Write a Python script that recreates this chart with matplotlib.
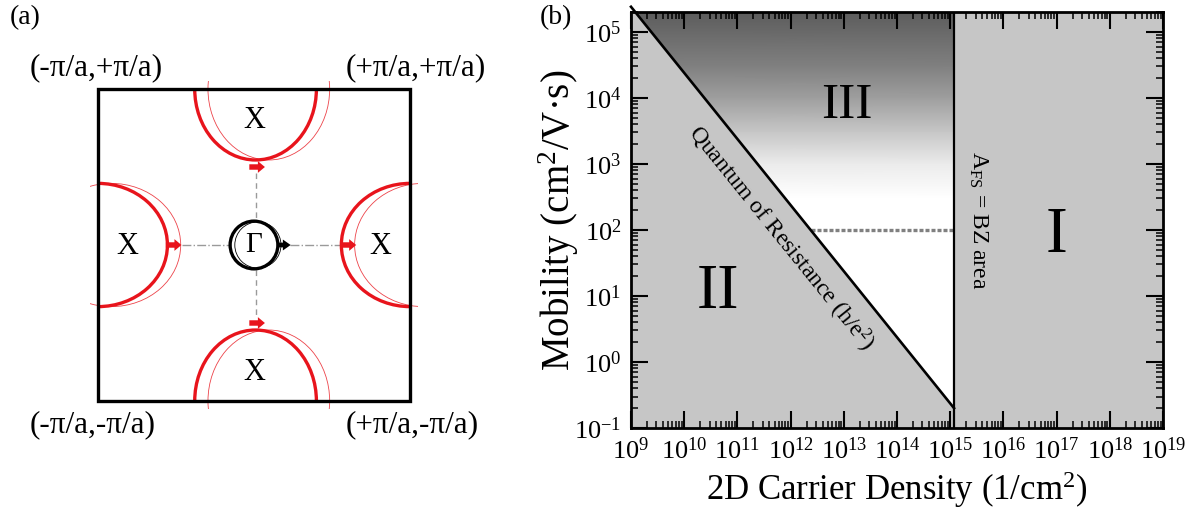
import matplotlib
matplotlib.use("Agg")
import matplotlib.pyplot as plt
from matplotlib.patches import Ellipse, Rectangle, Circle, Polygon
from matplotlib.ticker import LogLocator, FixedLocator, NullFormatter
import numpy as np

plt.rcParams['font.family'] = ['Liberation Serif', 'DejaVu Serif']
plt.rcParams['mathtext.fontset'] = 'custom'
plt.rcParams['mathtext.rm'] = 'Liberation Serif'
plt.rcParams['mathtext.it'] = 'Liberation Serif:italic'

# ---- panel (a): Brillouin zone sketch ----
corner_labels = ['(-π/a,+π/a)', '(+π/a,+π/a)', '(-π/a,-π/a)', '(+π/a,-π/a)']
corner_pos = [(-1.44, 1.135), (0.585, 1.135), (-1.44, -1.155), (0.585, -1.155)]
pocket_xy = [(0.01, 1.0), (0.01, -1.0), (-1.0, 0.0), (1.0, 0.0)]
pocket_w = [0.78, 0.78, 0.89, 0.88]     # full widths
pocket_h = [0.91, 0.91, 0.79, 0.79]
pocket_shift = 0.085
x_labels_xy = [(0.0, 0.80), (0.0, -0.82), (-0.81, -0.01), (0.81, -0.01)]
arrow_start = [(-0.03, 0.50), (-0.03, -0.50), (-0.565, 0.0), (0.555, 0.0)]
arrow_len = 0.10

# ---- panel (b): mobility vs carrier density ----
qr_density = [1e9, 1.18e15]
qr_mobility = [2.4e5, 0.2]
bz_density = 1.18e15
dash_density = [2.4e12, 1.18e15]
dash_mobility = [100, 100]
x_lim = [1e9, 1e19]
y_lim = [0.1, 2e5]
x_ticks = [10.0 ** k for k in range(9, 20)]
y_ticks = [10.0 ** k for k in range(-1, 6)]
grad_mobility = [2e5, 3e4, 1e4, 3e3, 1e3, 3e2, 1e2]
grad_level = [0.36, 0.50, 0.62, 0.78, 0.92, 1.0, 1.0]

red = '#e8141c'
gray_fill = '#c6c6c6'

fig = plt.figure(figsize=(12, 5.18), dpi=100)

# panel (a)
ax = fig.add_axes([0, 0, 520 / 1200, 1])
ax.set_xlim(-254 / 156, (520 - 254) / 156)
ax.set_ylim(-(518 - 245) / 156, 245 / 156)
ax.axis('off')

ax.add_patch(Rectangle((-1, -1), 2, 2, fill=False, lw=2.4, ec='black', zorder=5))
clip_in = Rectangle((-1, -1), 2, 2, transform=ax.transData)
clip_out = Rectangle((-1.05, -1.05), 2.1, 2.1, transform=ax.transData)
for (cx, cy), w, h in zip(pocket_xy, pocket_w, pocket_h):
    e = Ellipse((cx, cy), w, h, fill=False, ec=red, lw=2.4, zorder=3)
    ax.add_patch(e)
    e.set_clip_path(clip_in)
    e2 = Ellipse((cx + pocket_shift, cy), w, h, fill=False, ec=red, lw=0.6, alpha=0.8, zorder=3)
    ax.add_patch(e2)
    e2.set_clip_path(clip_out)

for (tx, ty) in x_labels_xy:
    ax.text(tx, ty, 'X', fontsize=22, ha='center', va='center')

for (ax0, ay0) in arrow_start:
    ax.arrow(ax0, ay0, arrow_len, 0, width=0.035, head_width=0.075, head_length=0.045,
             length_includes_head=True, color=red, lw=0, zorder=4)

# guide lines from Gamma to pockets
ax.plot([0.01, 0.01], [0.46, 0.16], color='#9a9a9a', lw=1, ls=(0, (4, 3)))
ax.plot([0.01, 0.01], [-0.16, -0.46], color='#9a9a9a', lw=1, ls=(0, (4, 3)))
ax.plot([-0.46, -0.16], [0.0, 0.0], color='#9a9a9a', lw=1, ls='-.')
ax.plot([0.23, 0.55], [0.0, 0.0], color='#9a9a9a', lw=1, ls='-.')

ax.add_patch(Circle((0, 0), 0.153, fill=False, ec='black', lw=2.4, zorder=4))
ax.add_patch(Circle((0.025, 0), 0.148, fill=False, ec='black', lw=0.6, zorder=4))
ax.arrow(0.15, 0.0, 0.085, 0, width=0.03, head_width=0.07, head_length=0.05,
         length_includes_head=True, color='black', lw=0, zorder=4)
ax.text(0.0, 0.0, 'Γ', fontsize=21, ha='center', va='center')

for lab, (lx, ly) in zip(corner_labels, corner_pos):
    ax.text(lx, ly, lab, fontsize=22.5, ha='left', va='center')

fig.text(10 / 1200, 1 - 18 / 518, '(a)', fontsize=20, ha='left', va='center')
fig.text(540 / 1200, 1 - 18 / 518, '(b)', fontsize=20, ha='left', va='center')

# panel (b)
bx = fig.add_axes([631 / 1200, (518 - 428) / 518, 532 / 1200, 416 / 518])
bx.set_xscale('log')
bx.set_yscale('log')
bx.set_xlim(x_lim)
bx.set_ylim(y_lim)

# region II (below quantum of resistance line)
bx.add_patch(Polygon([(x_lim[0], y_lim[0]), (qr_density[0], qr_mobility[0]),
                      (qr_density[1], qr_mobility[1]), (qr_density[1], y_lim[0])],
                     closed=True, fc=gray_fill, ec='none', zorder=1))
# region I
bx.axvspan(bz_density, x_lim[1], color=gray_fill, lw=0, zorder=1)
# region III gradient
region3 = Polygon([(qr_density[0], qr_mobility[0]), (qr_density[0], 1e6), (bz_density, 1e6),
                   (qr_density[1], qr_mobility[1])], closed=True, transform=bx.transData)
gx, gy = np.meshgrid([x_lim[0], bz_density], grad_mobility)
gc = np.column_stack([grad_level, grad_level])
mesh = bx.pcolormesh(gx, gy, gc, cmap='gray', vmin=0, vmax=1, shading='gouraud', zorder=1)
mesh.set_clip_path(region3)

bx.plot(qr_density, qr_mobility, color='black', lw=1.9, zorder=3, clip_on=False)
bx.axvline(bz_density, color='black', lw=1.6, zorder=3)
bx.plot(dash_density, dash_mobility, color='#808080', lw=2.4, ls=(0, (1.2, 0.6)), zorder=2)

bx.text(0.405, 0.775, 'III', fontsize=37, ha='center', va='center', transform=bx.transAxes)
bx.text(0.80, 0.46, 'I', fontsize=47, ha='center', va='center', transform=bx.transAxes)
bx.text(0.163, 0.325, 'II', fontsize=46, ha='center', va='center', transform=bx.transAxes)
bx.text(0.28, 0.457, 'Quantum of Resistance (h/e$^2$)', fontsize=17, rotation=-51,
        ha='center', va='center', transform=bx.transAxes, rotation_mode='anchor')
bx.text(0.652, 0.50, 'A$_{\\mathrm{FS}}$ = BZ area', fontsize=17, rotation=-90,
        ha='center', va='center', transform=bx.transAxes)

bx.xaxis.set_major_locator(FixedLocator(x_ticks))
bx.yaxis.set_major_locator(FixedLocator(y_ticks))
bx.set_xticklabels(['$10^{%d}$' % int(np.log10(v)) for v in x_ticks])
bx.set_yticklabels(['$10^{%d}$' % int(np.log10(v)) for v in y_ticks])
bx.xaxis.set_minor_locator(LogLocator(base=10, subs=np.arange(2, 10), numticks=30))
bx.yaxis.set_minor_locator(LogLocator(base=10, subs=np.arange(2, 10), numticks=30))
bx.xaxis.set_minor_formatter(NullFormatter())
bx.yaxis.set_minor_formatter(NullFormatter())
bx.tick_params(which='both', direction='in', top=True, right=True, labelsize=19)
bx.tick_params(which='major', length=12, width=1.5, pad=7)
bx.tick_params(which='minor', length=5, width=1.1)
for sp in bx.spines.values():
    sp.set_linewidth(2)
    sp.set_zorder(6)

bx.set_xlabel('2D Carrier Density (1/cm$^2$)', fontsize=25, labelpad=4)
bx.set_ylabel('Mobility (cm$^2$/V·s)', fontsize=28, labelpad=-5)

fig.savefig('out.png', dpi=100)
